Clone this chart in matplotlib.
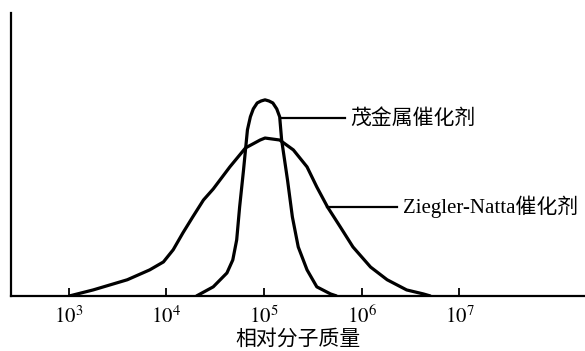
import numpy as np
import matplotlib
matplotlib.use("Agg")
import matplotlib.pyplot as plt

plt.rcParams['font.family'] = ['Noto Sans CJK SC', 'DejaVu Sans']
plt.rcParams['mathtext.fontset'] = 'stix'

# Ziegler-Natta catalyst: broad distribution (log10 M, relative height)
zn_logm = [3.01, 3.25, 3.60, 3.83, 3.97, 4.07, 4.17, 4.27, 4.38, 4.48, 4.65, 4.81, 4.96, 5.01,
           5.16, 5.30, 5.44, 5.54, 5.65, 5.78, 5.91, 6.09, 6.26, 6.46, 6.63, 6.70]
zn_height = [0.0, 0.021, 0.057, 0.092, 0.120, 0.163, 0.223, 0.279, 0.339, 0.378, 0.456, 0.523, 0.551, 0.558,
             0.551, 0.516, 0.456, 0.385, 0.314, 0.244, 0.173, 0.102, 0.057, 0.021, 0.007, 0.0]

# metallocene catalyst: narrow distribution
mc_logm = [4.31, 4.48, 4.62, 4.68, 4.72, 4.75, 4.79, 4.83, 4.86, 4.89, 4.93, 4.97, 5.01,
           5.05, 5.09, 5.13, 5.16, 5.18, 5.24, 5.29, 5.35, 5.44, 5.54, 5.68, 5.74]
mc_height = [0.0, 0.032, 0.081, 0.127, 0.198, 0.314, 0.445, 0.587, 0.633, 0.661, 0.682, 0.689, 0.693,
             0.689, 0.682, 0.661, 0.633, 0.551, 0.410, 0.279, 0.173, 0.092, 0.032, 0.007, 0.0]

tick_exp = [3, 4, 5, 6, 7]
label_mc = "茂金属催化剂"
label_zn = "Ziegler-Natta催化剂"
xlabel = "相对分子质量"

fig = plt.figure(figsize=(5.85, 3.51), dpi=100)
ax = fig.add_axes([0.0188, 0.157, 0.9812, 0.806])

ax.plot(10 ** np.array(zn_logm), zn_height, color='black', lw=2.3,
        solid_joinstyle='round', solid_capstyle='round')
ax.plot(10 ** np.array(mc_logm), mc_height, color='black', lw=2.3,
        solid_joinstyle='round', solid_capstyle='round')

# leader lines and labels
ax.plot([10 ** 5.184, 10 ** 5.829], [0.629, 0.629], color='black', lw=1.6)
ax.text(10 ** 5.88, 0.629, label_mc, fontsize=15, va='center', ha='left')
ax.plot([10 ** 5.645, 10 ** 6.361], [0.314, 0.314], color='black', lw=1.6)
ax.text(10 ** 6.42, 0.316, label_zn, fontsize=15, va='center', ha='left',
        family=['Liberation Serif', 'Noto Sans CJK SC'])

ax.set_xscale('log')
ax.set_xlim(10 ** 2.41, 10 ** 8.285)
ax.set_ylim(0, 1)
ax.set_xticks([10.0 ** e for e in tick_exp])
ax.set_xticklabels([r'$10^{%d}$' % e for e in tick_exp], fontsize=15)
ax.minorticks_off()
ax.tick_params(axis='x', direction='in', length=6, width=1.3, pad=7)
ax.set_yticks([])
ax.set_xlabel(xlabel, fontsize=15, labelpad=0)

for s in ['top', 'right']:
    ax.spines[s].set_visible(False)
ax.spines['left'].set_linewidth(1.6)
ax.spines['bottom'].set_linewidth(1.6)

fig.savefig("out.png", dpi=100)
